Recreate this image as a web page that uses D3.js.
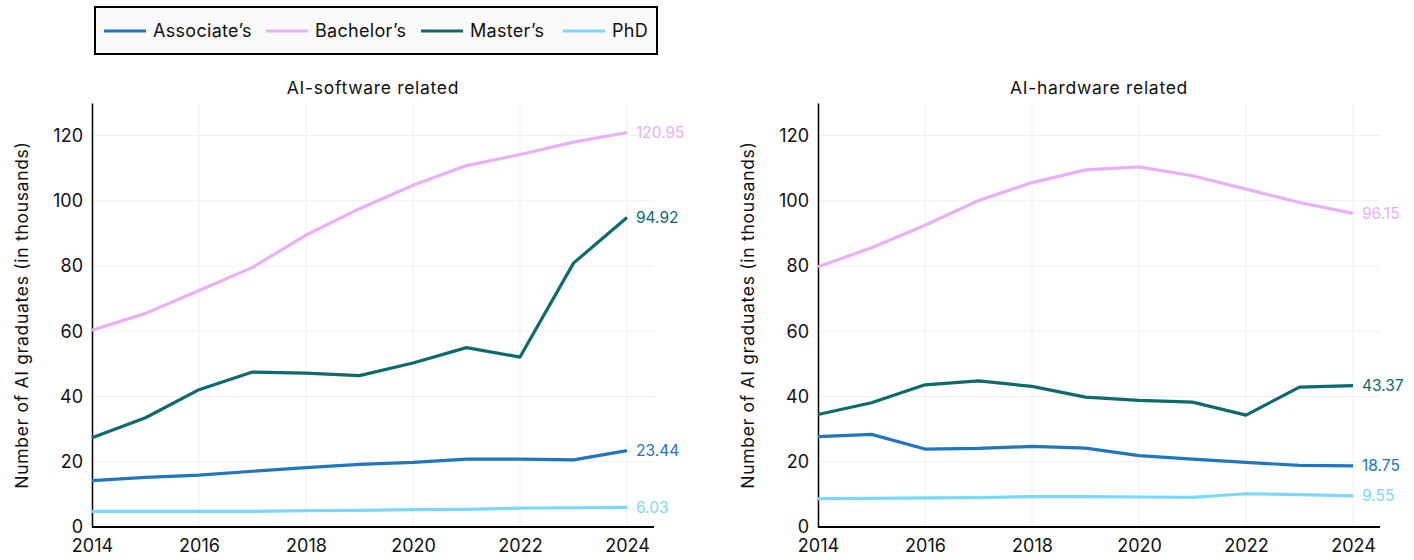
<!DOCTYPE html>
<html>
<head>
<meta charset="utf-8">
<script src="https://cdn.jsdelivr.net/npm/d3@7"></script>
<style>
  html, body { margin: 0; padding: 0; background: #fff; }
  svg text { font-family: Inter, "Liberation Sans", sans-serif; fill: #111; }
</style>
</head>
<body>
<svg id="chart" width="1414" height="560"></svg>
<script>
const years = [2014, 2015, 2016, 2017, 2018, 2019, 2020, 2021, 2022, 2023, 2024];
const seriesNames = ["Associate's", "Bachelor's", "Master's", "PhD"];
const legendLabels = ["Associate\u2019s", "Bachelor\u2019s", "Master\u2019s", "PhD"];
const colors = ["#2176bd", "#e9b0f9", "#0f6a6b", "#7dd8fd"];
const panelTitles = ["AI-software related", "AI-hardware related"];
const yTicks = [0, 20, 40, 60, 80, 100, 120];
const xTicks = [2014, 2016, 2018, 2020, 2022, 2024];

// AI-software related
const softAssociate = [14.2, 15.2, 15.9, 17.1, 18.2, 19.2, 19.8, 20.8, 20.8, 20.6, 23.44];
const softBachelor  = [60.3, 65.5, 72.5, 79.6, 89.5, 97.6, 104.8, 110.8, 114.2, 118.0, 120.95];
const softMaster    = [27.4, 33.5, 42.1, 47.5, 47.2, 46.4, 50.3, 55.0, 52.1, 80.9, 94.92];
const softPhD       = [4.8, 4.8, 4.8, 4.8, 5.0, 5.1, 5.3, 5.4, 5.8, 5.9, 6.03];

// AI-hardware related
const hardAssociate = [27.7, 28.4, 23.9, 24.1, 24.7, 24.2, 21.9, 20.8, 19.8, 18.9, 18.75];
const hardBachelor  = [79.8, 85.6, 92.5, 100.1, 105.6, 109.5, 110.4, 107.7, 103.6, 99.5, 96.15];
const hardMaster    = [34.5, 38.1, 43.6, 44.8, 43.1, 39.8, 38.8, 38.3, 34.3, 42.9, 43.37];
const hardPhD       = [8.7, 8.8, 8.9, 9.0, 9.3, 9.3, 9.2, 9.1, 10.2, 9.9, 9.55];

const endLabels = [
  ["23.44", "120.95", "94.92", "6.03"],
  ["18.75", "96.15", "43.37", "9.55"]
];

const panels = [
  [softAssociate, softBachelor, softMaster, softPhD],
  [hardAssociate, hardBachelor, hardMaster, hardPhD]
];

const svg = d3.select("#chart");

const panelLeft = [92, 818];
const plotW = 535;   // 2014 -> 2024
const axisExtra = 27;
const yTop = 103, yBottom = 527;

panels.forEach((series, p) => {
  const x0 = panelLeft[p];
  const x = d3.scaleLinear().domain([2014, 2024]).range([x0, x0 + plotW]);
  const y = d3.scaleLinear().domain([0, 130]).range([yBottom, yTop]);
  const g = svg.append("g");

  // grid
  g.selectAll(".vgrid").data(xTicks).enter().append("line")
    .attr("x1", d => x(d)).attr("x2", d => x(d))
    .attr("y1", yTop).attr("y2", yBottom)
    .attr("stroke", "#efefef").attr("stroke-width", 1);
  g.selectAll(".hgrid").data(yTicks).enter().append("line")
    .attr("x1", x0).attr("x2", x0 + plotW + axisExtra)
    .attr("y1", d => y(d)).attr("y2", d => y(d))
    .attr("stroke", "#efefef").attr("stroke-width", 1);

  // axes
  const yAxis = d3.axisLeft(y).tickValues(yTicks).tickSize(0).tickPadding(9);
  const yg = g.append("g").attr("transform", `translate(${x0},0)`).call(yAxis);
  yg.select(".domain").attr("stroke", "#000").attr("stroke-width", 1.5);
  yg.selectAll("text").style("font-size", "18px").attr("fill", "#111");

  const xAxis = d3.axisBottom(x).tickValues(xTicks).tickFormat(d3.format("d")).tickSize(0).tickPadding(12);
  const xg = g.append("g").attr("transform", `translate(0,${yBottom})`).call(xAxis);
  xg.select(".domain").attr("d", `M${x0},0H${x0 + plotW + axisExtra}`).attr("stroke", "#000").attr("stroke-width", 2);
  xg.selectAll("text").style("font-size", "18px").attr("fill", "#111");

  // title
  g.append("text").attr("x", x0 + (plotW + axisExtra) / 2).attr("y", 94)
    .attr("text-anchor", "middle").style("font-size", "17.5px")
    .style("letter-spacing", "0.7px").text(panelTitles[p]);

  // y label
  g.append("text")
    .attr("transform", `translate(${x0 - 64},${(yTop + yBottom) / 2}) rotate(-90)`)
    .attr("text-anchor", "middle").style("font-size", "17.5px")
    .style("letter-spacing", "0.7px")
    .text("Number of AI graduates (in thousands)");

  // lines
  const line = d3.line().x((d, i) => x(years[i])).y(d => y(d));
  series.forEach((vals, s) => {
    g.append("path").datum(vals)
      .attr("d", line)
      .attr("fill", "none")
      .attr("stroke", colors[s])
      .attr("stroke-width", 3.2)
      .attr("stroke-linejoin", "round");
    g.append("text")
      .attr("x", x(2024) + 9)
      .attr("y", y(vals[vals.length - 1]))
      .attr("dy", "0.35em")
      .style("font-size", "15.5px")
      .style("fill", colors[s])
      .text(endLabels[p][s]);
  });
});

// legend
const lg = svg.append("g");
lg.append("rect").attr("x", 95).attr("y", 7).attr("width", 562).attr("height", 47)
  .attr("fill", "#fafafa").attr("stroke", "#000").attr("stroke-width", 2);
const legendX = [104, 266, 421, 563];
legendLabels.forEach((name, i) => {
  lg.append("line").attr("x1", legendX[i]).attr("x2", legendX[i] + 42)
    .attr("y1", 31).attr("y2", 31)
    .attr("stroke", colors[i]).attr("stroke-width", 3.2);
  lg.append("text").attr("x", legendX[i] + 49).attr("y", 31).attr("dy", "0.35em")
    .style("font-size", "18px").style("letter-spacing", "0.3px").text(name);
});
</script>
</body>
</html>
